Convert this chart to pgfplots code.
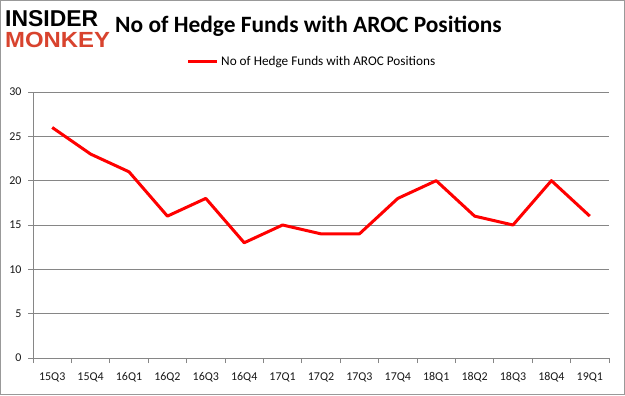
\documentclass[border=0pt]{standalone}
\usepackage{pgfplots}
\pgfplotsset{compat=1.18}
\usepackage{fontspec}
\setmainfont{Carlito}
\newfontfamily\logofont{Liberation Sans}
\definecolor{gridgray}{HTML}{868686}
\definecolor{logored}{HTML}{D8432E}
\begin{document}
\begin{tikzpicture}[x=1bp,y=1bp]
\fill[white] (-33,-37) rectangle (592,358);
\draw[gray!80, line width=1bp] (-32.5,-36.5) rectangle (591.5,357.5);
\begin{axis}[
  at={(0,0)}, anchor=south west,
  width=576bp, height=266bp, scale only axis,
  xmin=-0.5, xmax=14.5, ymin=0, ymax=30,
  xtick={0,...,14},
  xticklabels={15Q3,15Q4,16Q1,16Q2,16Q3,16Q4,17Q1,17Q2,17Q3,17Q4,18Q1,18Q2,18Q3,18Q4,19Q1},
  minor xtick={-0.5,0.5,...,14.5},
  ytick={0,5,...,30},
  major x tick style={draw=none},
  tick align=outside,
  major tick length=5bp, minor tick length=5bp,
  every tick/.style={gridgray, line width=0.75bp},
  axis x line*=bottom, axis y line*=left,
  axis line style={gridgray, line width=0.75bp},
  ymajorgrids, grid style={gridgray, line width=0.75bp},
  tick label style={font=\fontsize{12}{13}\selectfont, text=black!90},
  /pgf/number format/assume math mode=true,
  xticklabel style={yshift=-6bp},
  yticklabel style={xshift=-3bp},
  clip=false,
]
\addplot[red, line width=3bp, line join=round] coordinates {
(0,26) (1,23) (2,21) (3,16) (4,18) (5,13) (6,15) (7,14) (8,14) (9,18) (10,20) (11,16) (12,15) (13,20) (14,16)};
\end{axis}
% title and logo
\node[anchor=base west, inner sep=0, font=\fontsize{23.5}{26}\selectfont\bfseries] at (82,326) {No of Hedge Funds with AROC Positions};
\node[anchor=base west, font=\logofont\fontsize{23}{23}\selectfont\bfseries, inner sep=0] at (-28,332) {INSIDER};
\node[anchor=base west, font=\logofont\fontsize{22}{22}\selectfont\bfseries, text=logored, inner sep=0, xscale=1.09] at (-28,311) {MONKEY};
% legend
\draw[red, line width=3bp] (155,297) -- (184,297);
\node[anchor=base west, font=\fontsize{13.3}{15}\selectfont, inner sep=0] at (188,293) {No of Hedge Funds with AROC Positions};
\pgfresetboundingbox
\useasboundingbox (-33,-37) rectangle (592,358);
\end{tikzpicture}
\end{document}
